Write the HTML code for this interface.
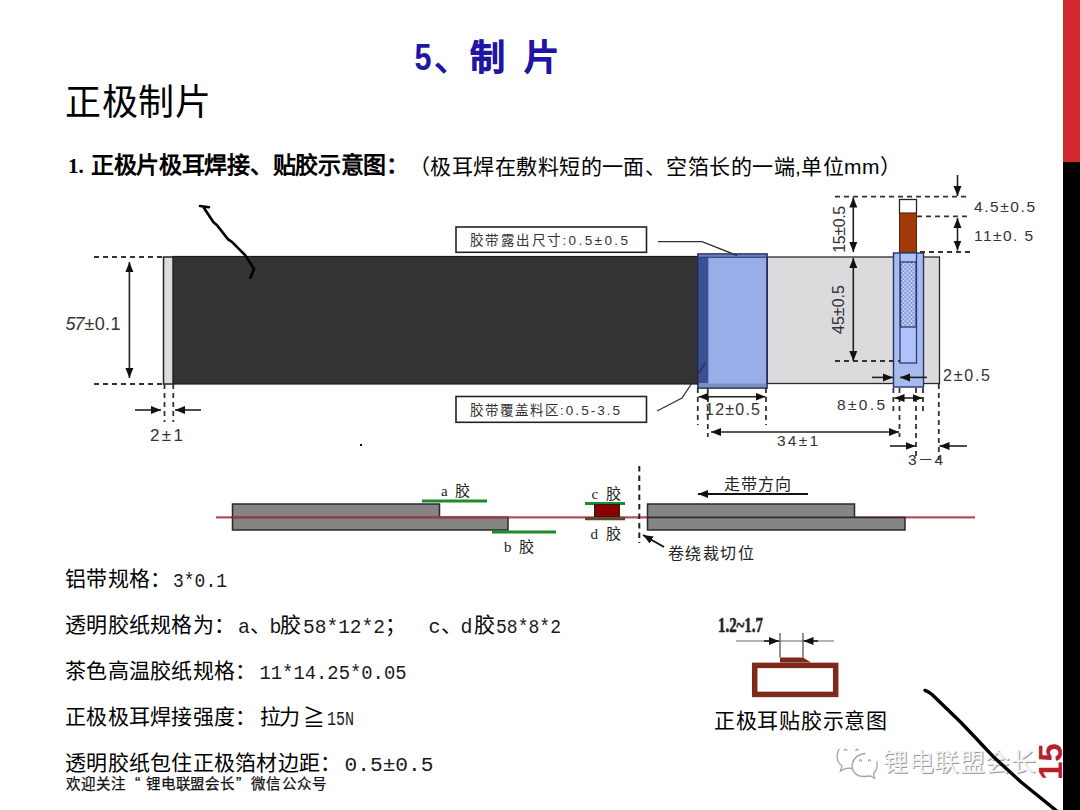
<!DOCTYPE html>
<html lang="zh-CN">
<head>
<meta charset="utf-8">
<style>
html,body{margin:0;padding:0;background:#fff;}
body{width:1080px;height:810px;overflow:hidden;position:relative;font-family:"Liberation Sans",sans-serif;}
svg{position:absolute;left:0;top:0;}
</style>
</head>
<body>
<div style="position:absolute;left:1063px;top:0;width:17px;height:162px;background:#d0282e"></div>
<div style="position:absolute;left:1063px;top:162px;width:17px;height:648px;background:#000"></div>
<svg width="1080" height="810" viewBox="0 0 1080 810">

<defs>
<pattern id="chk" width="4" height="4" patternUnits="userSpaceOnUse" patternTransform="translate(900.5,262)">
<rect width="4" height="4" fill="#7f93d4"/>
<circle cx="1" cy="1" r="1.15" fill="#c6d3fa"/>
<circle cx="3" cy="3" r="1.15" fill="#c6d3fa"/>
</pattern>
<marker id="ah" viewBox="0 0 10 10" refX="10" refY="5" markerWidth="10" markerHeight="10" markerUnits="userSpaceOnUse" orient="auto-start-reverse">
<path d="M0,1 L10,5 L0,9 z" fill="#111"/>
</marker>
</defs>
<g id="diag1">
<!-- strip -->
<rect x="163.5" y="257" width="10" height="127" fill="#dcdcdc" stroke="#222" stroke-width="1.5"/>
<rect x="173" y="256.5" width="530" height="127.5" fill="#333333" stroke="#1c1c1c" stroke-width="1.2"/>
<rect x="767" y="257" width="172.5" height="126.5" fill="#dbdadc" stroke="#2a2a2a" stroke-width="1.3"/>
<!-- blue tape -->
<rect x="698" y="254" width="69" height="134" fill="#98aee8" stroke="#1a2560" stroke-width="1.6"/>
<rect x="698.8" y="254.8" width="9.5" height="128.5" fill="#3b4f95"/>
<rect x="698.8" y="383.5" width="67.5" height="3.8" fill="#7e8fba"/>
<rect x="698.8" y="254.6" width="67.5" height="2.6" fill="#6f7fae"/>
<line x1="698.8" y1="257.3" x2="766.2" y2="257.3" stroke="#2a3570" stroke-width="1"/>
<!-- tab -->
<rect x="899.5" y="199.5" width="17" height="14" fill="#fff" stroke="#222" stroke-width="1.3"/>
<rect x="899.5" y="213" width="17" height="40" fill="#a03a08" stroke="#5a2010" stroke-width="1"/>
<rect x="893.5" y="253" width="30" height="134" fill="#a9bbec" stroke="#24336e" stroke-width="1.4"/>
<rect x="900" y="253" width="16.5" height="110" fill="#afc3fb" stroke="#2a3a78" stroke-width="1.3"/>
<rect x="900.5" y="262" width="15.5" height="65" fill="url(#chk)" stroke="#2a3a78" stroke-width="1.3"/>
<!-- callouts -->
<rect x="456" y="227" width="190.5" height="25.3" fill="#fff" stroke="#222" stroke-width="1.6"/>
<rect x="456" y="396.5" width="190.5" height="25.8" fill="#fff" stroke="#222" stroke-width="1.6"/>
<polyline points="658,241.6 702,241.6 737,255.5" fill="none" stroke="#333" stroke-width="1.4"/>
<polyline points="657,411 682,398 706,362" fill="none" stroke="#333" stroke-width="1.3"/>
</g>
<g id="dims" stroke="#333" stroke-width="1.8" fill="none" stroke-dasharray="5 4">
<line x1="94" y1="257" x2="163" y2="257"/>
<line x1="94" y1="384" x2="163" y2="384"/>
<line x1="164.5" y1="384" x2="164.5" y2="422"/>
<line x1="173.3" y1="384" x2="173.3" y2="422"/>
<line x1="697.8" y1="388" x2="697.8" y2="425"/>
<line x1="707.8" y1="388" x2="707.8" y2="437"/>
<line x1="766" y1="388" x2="766" y2="425"/>
<line x1="893.4" y1="388" x2="893.4" y2="415"/>
<line x1="899.5" y1="388" x2="899.5" y2="437"/>
<line x1="916" y1="388" x2="916" y2="460"/>
<line x1="923" y1="388" x2="923" y2="415"/>
<line x1="938.8" y1="384" x2="938.8" y2="460"/>
<line x1="835" y1="196.7" x2="970" y2="196.7"/>
<line x1="917" y1="216.3" x2="970" y2="216.3"/>
<line x1="920" y1="252" x2="970" y2="252"/>
<line x1="835" y1="361" x2="900" y2="361"/>
</g>
<g id="arrows" stroke="#222" stroke-width="1.6" fill="none">
<line x1="129.4" y1="262" x2="129.4" y2="378" marker-start="url(#ah)" marker-end="url(#ah)"/>
<line x1="135" y1="410" x2="161" y2="410" marker-end="url(#ah)"/>
<line x1="201" y1="410" x2="175" y2="410" marker-end="url(#ah)"/>
<line x1="698.5" y1="396.7" x2="765.5" y2="396.7" marker-start="url(#ah)" marker-end="url(#ah)"/>
<line x1="899" y1="432" x2="711" y2="432" marker-start="url(#ah)" marker-end="url(#ah)"/>
<line x1="894.5" y1="398" x2="922.5" y2="398" marker-start="url(#ah)" marker-end="url(#ah)"/>
<line x1="890" y1="446" x2="915.5" y2="446" marker-end="url(#ah)"/>
<line x1="967" y1="446" x2="939.5" y2="446" marker-end="url(#ah)"/>
<line x1="872" y1="377.4" x2="893" y2="377.4" marker-end="url(#ah)"/>
<line x1="927" y1="377.4" x2="900" y2="377.4" marker-end="url(#ah)"/>
<line x1="853.3" y1="197.5" x2="853.3" y2="252" marker-start="url(#ah)" marker-end="url(#ah)"/>
<line x1="853.3" y1="258" x2="853.3" y2="361" marker-start="url(#ah)" marker-end="url(#ah)"/>
<line x1="957.5" y1="175" x2="957.5" y2="196" marker-end="url(#ah)"/>
<line x1="957.5" y1="218" x2="957.5" y2="250.5" marker-start="url(#ah)" marker-end="url(#ah)"/>
</g>

<g id="diag2">
<line x1="216" y1="517.3" x2="975" y2="517.3" stroke="#b0525a" stroke-width="2.2"/>
<rect x="232.5" y="504" width="207" height="13.5" fill="#858585" stroke="#2a2a2a" stroke-width="1.5"/>
<rect x="232.5" y="517.5" width="275.5" height="12.5" fill="#858585" stroke="#2a2a2a" stroke-width="1.5"/>
<line x1="232.5" y1="517.3" x2="508" y2="517.3" stroke="#9a4048" stroke-width="2.2"/>
<line x1="422" y1="501" x2="487" y2="501" stroke="#1e8a2a" stroke-width="3"/>
<line x1="492" y1="532" x2="556" y2="532" stroke="#1e8a2a" stroke-width="3"/>
<line x1="585" y1="503.5" x2="625" y2="503.5" stroke="#1e8a2a" stroke-width="3"/>
<rect x="594.5" y="504.5" width="25" height="12" fill="#8a0000" stroke="#222" stroke-width="1"/>
<line x1="585" y1="518.7" x2="625" y2="518.7" stroke="#5b4a22" stroke-width="3"/>
<line x1="639.3" y1="466" x2="639.3" y2="543" stroke="#222" stroke-width="2" stroke-dasharray="5.5 4"/>
<rect x="647.5" y="504" width="207" height="13.5" fill="#858585" stroke="#2a2a2a" stroke-width="1.5"/>
<rect x="647.5" y="517.5" width="257.5" height="12.5" fill="#858585" stroke="#2a2a2a" stroke-width="1.5"/>
<line x1="808" y1="494" x2="698" y2="494" stroke="#111" stroke-width="2" marker-end="url(#ah)"/>
<line x1="664" y1="547" x2="643" y2="535" stroke="#111" stroke-width="2" marker-end="url(#ah)"/>
</g>

<g id="diag3">

<line x1="736" y1="641" x2="834" y2="641" stroke="#999" stroke-width="1.5"/>
<line x1="764" y1="641" x2="779" y2="641" stroke="#111" stroke-width="1.5" marker-end="url(#ah)"/>
<line x1="818" y1="641" x2="803.5" y2="641" stroke="#111" stroke-width="1.5" marker-end="url(#ah)"/>
<line x1="780" y1="633" x2="780" y2="657.5" stroke="#555" stroke-width="1.3"/>
<line x1="803" y1="633" x2="803" y2="657.5" stroke="#555" stroke-width="1.3"/>
<rect x="754.7" y="665.4" width="81" height="29" fill="#fff" stroke="#7d2a1c" stroke-width="5.5"/>
<path d="M780,662.6 L780,657.4 L803,657.4 L811,662.6 z" fill="#7d2a1c"/>
</g>


<g id="texts">
<text x="414.5" y="69.5" font-size="36" font-family="Liberation Sans, sans-serif" fill="#1f17a3" textLength="17" lengthAdjust="spacingAndGlyphs" font-weight="bold">5</text>
<text x="434" y="71" font-size="35" font-family="Liberation Sans, sans-serif" fill="#1f17a3" font-weight="bold">、</text>
<text x="470" y="70" font-size="35" font-family="Liberation Sans, sans-serif" fill="#1f17a3" font-weight="bold" stroke="#1f17a3" stroke-width="0.7">制</text>
<text x="524" y="70" font-size="35" font-family="Liberation Sans, sans-serif" fill="#1f17a3" font-weight="bold" stroke="#1f17a3" stroke-width="0.7">片</text>
<text x="65" y="114.5" font-size="36" font-family="Liberation Sans, sans-serif" fill="#000" textLength="146" lengthAdjust="spacing">正极制片</text>
<text x="68" y="173" font-size="21" font-family="Liberation Serif, serif" fill="#000" font-weight="bold">1.</text>
<text x="91" y="173" font-size="23" font-family="Liberation Sans, sans-serif" fill="#000" textLength="318" lengthAdjust="spacing" font-weight="bold">正极片极耳焊接、贴胶示意图：</text>
<text x="409" y="174" font-size="21" font-family="Liberation Sans, sans-serif" fill="#000" textLength="492" lengthAdjust="spacing">（极耳焊在敷料短的一面、空箔长的一端,单位mm）</text>
<text x="65.5" y="330" font-size="18" font-family="Liberation Sans, sans-serif" fill="#333" textLength="19" lengthAdjust="spacing" font-style="italic">57</text>
<text x="84.5" y="330" font-size="18" font-family="Liberation Sans, sans-serif" fill="#333" textLength="36" lengthAdjust="spacing">±0.1</text>
<text x="150" y="441" font-size="17" font-family="Liberation Sans, sans-serif" fill="#333" textLength="33" lengthAdjust="spacing">2±1</text>
<text x="705" y="414.5" font-size="16" font-family="Liberation Sans, sans-serif" fill="#333" textLength="55" lengthAdjust="spacing">12±0.5</text>
<text x="777" y="446" font-size="15.5" font-family="Liberation Sans, sans-serif" fill="#333" textLength="41" lengthAdjust="spacing">34±1</text>
<text x="837" y="409.5" font-size="15.5" font-family="Liberation Sans, sans-serif" fill="#333" textLength="48" lengthAdjust="spacing">8±0.5</text>
<text x="908" y="464.5" font-size="15.5" font-family="Liberation Sans, sans-serif" fill="#333" textLength="35" lengthAdjust="spacing">3－4</text>
<text x="943" y="380.5" font-size="16" font-family="Liberation Sans, sans-serif" fill="#333" textLength="47" lengthAdjust="spacing">2±0.5</text>
<text x="974" y="211.5" font-size="15.5" font-family="Liberation Sans, sans-serif" fill="#333" textLength="61" lengthAdjust="spacing">4.5±0.5</text>
<text x="974" y="240.5" font-size="15.5" font-family="Liberation Sans, sans-serif" fill="#333" textLength="59" lengthAdjust="spacing">11±0. 5</text>
<text x="0" y="0" font-size="16" font-family="Liberation Sans, sans-serif" fill="#333" textLength="47" lengthAdjust="spacing" transform="translate(845,252.8) rotate(-90)">15±0.5</text>
<text x="0" y="0" font-size="16" font-family="Liberation Sans, sans-serif" fill="#333" textLength="49" lengthAdjust="spacing" transform="translate(844,334) rotate(-90)">45±0.5</text>
<text x="470" y="244.5" font-size="13.5" font-family="Liberation Sans, sans-serif" fill="#333" textLength="158" lengthAdjust="spacing">胶带露出尺寸:0.5±0.5</text>
<text x="470" y="415" font-size="13.5" font-family="Liberation Sans, sans-serif" fill="#333" textLength="150" lengthAdjust="spacing">胶带覆盖料区:0.5-3.5</text>
<text x="441" y="496" font-size="15" font-family="Liberation Serif, serif" fill="#222" textLength="29" lengthAdjust="spacing">a 胶</text>
<text x="504" y="551.5" font-size="15" font-family="Liberation Serif, serif" fill="#222" textLength="30" lengthAdjust="spacing">b 胶</text>
<text x="591.5" y="499.4" font-size="15" font-family="Liberation Serif, serif" fill="#222" textLength="29" lengthAdjust="spacing">c 胶</text>
<text x="590.5" y="539" font-size="15" font-family="Liberation Serif, serif" fill="#222" textLength="30" lengthAdjust="spacing">d 胶</text>
<text x="724" y="490" font-size="16" font-family="Liberation Sans, sans-serif" fill="#222" textLength="67" lengthAdjust="spacing">走带方向</text>
<text x="667.5" y="558.5" font-size="16" font-family="Liberation Sans, sans-serif" fill="#222" textLength="86" lengthAdjust="spacing">卷绕裁切位</text>
<text x="718" y="631.5" font-size="20" font-family="Liberation Serif, serif" fill="#222" textLength="45" lengthAdjust="spacingAndGlyphs" font-weight="bold" stroke="#222" stroke-width="0.5">1.2~1.7</text>
<text x="714" y="728" font-size="21" font-family="Liberation Sans, sans-serif" fill="#000" textLength="173" lengthAdjust="spacing">正极耳贴胶示意图</text>
<text x="65" y="586" font-size="21" font-family="Liberation Sans, sans-serif" fill="#000" textLength="106" lengthAdjust="spacing">铝带规格：</text>
<text x="173" y="586.5" font-size="21" font-family="Liberation Mono, monospace" fill="#1a1a1a" textLength="54" lengthAdjust="spacingAndGlyphs">3*0.1</text>
<text x="65" y="632" font-size="21" font-family="Liberation Sans, sans-serif" fill="#000" textLength="170" lengthAdjust="spacing">透明胶纸规格为：</text>
<text x="238" y="632.5" font-size="21" font-family="Liberation Mono, monospace" fill="#1a1a1a" textLength="12" lengthAdjust="spacingAndGlyphs">a</text>
<text x="250" y="632" font-size="21" font-family="Liberation Sans, sans-serif" fill="#000">、</text>
<text x="269.5" y="632.5" font-size="21" font-family="Liberation Mono, monospace" fill="#1a1a1a" textLength="12" lengthAdjust="spacingAndGlyphs">b</text>
<text x="280" y="632" font-size="21" font-family="Liberation Sans, sans-serif" fill="#000">胶</text>
<text x="303" y="632.5" font-size="21" font-family="Liberation Mono, monospace" fill="#1a1a1a" textLength="82" lengthAdjust="spacingAndGlyphs">58*12*2</text>
<text x="385" y="632" font-size="21" font-family="Liberation Sans, sans-serif" fill="#000">；</text>
<text x="428.5" y="632.5" font-size="21" font-family="Liberation Mono, monospace" fill="#1a1a1a" textLength="12" lengthAdjust="spacingAndGlyphs">c</text>
<text x="441" y="632" font-size="21" font-family="Liberation Sans, sans-serif" fill="#000">、</text>
<text x="460.5" y="632.5" font-size="21" font-family="Liberation Mono, monospace" fill="#1a1a1a" textLength="12" lengthAdjust="spacingAndGlyphs">d</text>
<text x="474" y="632" font-size="21" font-family="Liberation Sans, sans-serif" fill="#000">胶</text>
<text x="496" y="632.5" font-size="21" font-family="Liberation Mono, monospace" fill="#1a1a1a" textLength="65" lengthAdjust="spacingAndGlyphs">58*8*2</text>
<text x="65" y="678" font-size="21" font-family="Liberation Sans, sans-serif" fill="#000" textLength="191" lengthAdjust="spacing">茶色高温胶纸规格：</text>
<text x="259.5" y="678.5" font-size="21" font-family="Liberation Mono, monospace" fill="#1a1a1a" textLength="147" lengthAdjust="spacingAndGlyphs">11*14.25*0.05</text>
<text x="65" y="724" font-size="21" font-family="Liberation Sans, sans-serif" fill="#000" textLength="191" lengthAdjust="spacing">正极极耳焊接强度：</text>
<text x="259.5" y="724" font-size="21" font-family="Liberation Sans, sans-serif" fill="#000" textLength="40" lengthAdjust="spacing">拉力</text>
<text x="303" y="725" font-size="22" font-family="Liberation Sans, sans-serif" fill="#000" textLength="22" lengthAdjust="spacing">≧</text>
<text x="327" y="724.5" font-size="21" font-family="Liberation Mono, monospace" fill="#1a1a1a" textLength="27" lengthAdjust="spacingAndGlyphs">15N</text>
<text x="65" y="770" font-size="21" font-family="Liberation Sans, sans-serif" fill="#000" textLength="276" lengthAdjust="spacing">透明胶纸包住正极箔材边距：</text>
<text x="344.5" y="770.5" font-size="21" font-family="Liberation Mono, monospace" fill="#1a1a1a" textLength="89" lengthAdjust="spacingAndGlyphs">0.5±0.5</text>
<text x="65.5" y="788.5" font-size="14.5" font-family="Liberation Sans, sans-serif" fill="#111" textLength="59" lengthAdjust="spacing" stroke="#111" stroke-width="0.25">欢迎关注</text>
<text x="135" y="788.5" font-size="16" font-family="Liberation Sans, sans-serif" fill="#111" stroke="#111" stroke-width="0.25">“</text>
<text x="146" y="788.5" font-size="14.5" font-family="Liberation Sans, sans-serif" fill="#111" textLength="88" lengthAdjust="spacing" stroke="#111" stroke-width="0.25">锂电联盟会长</text>
<text x="236" y="788.5" font-size="16" font-family="Liberation Sans, sans-serif" fill="#111" stroke="#111" stroke-width="0.25">”</text>
<text x="251" y="788.5" font-size="14.5" font-family="Liberation Sans, sans-serif" fill="#111" textLength="75" lengthAdjust="spacing" stroke="#111" stroke-width="0.25">微信公众号</text>
<text x="883.9" y="771.6" font-size="25" font-family="Liberation Sans, sans-serif" fill="#9a9a9a" textLength="153" lengthAdjust="spacing" font-weight="300">锂电联盟会长</text>
<text x="883" y="770.7" font-size="25" font-family="Liberation Sans, sans-serif" fill="#f4f4f4" textLength="153" lengthAdjust="spacing" font-weight="300">锂电联盟会长</text>
<g fill="none" stroke="#a4a4a4" stroke-width="1.3" stroke-linecap="round"><path d="M839,749 Q834,760 842,766 L840.5,771 Q846,767 852,768.5"/><path d="M865,753.5 Q853,755 852,766 Q853,776.5 864,776.5 L870.5,776 L874.5,778.2 L873.5,773.5 Q878,769 877,762"/><path d="M844.3,750.5 Q845.5,747.8 846.8,750.5 M855.8,750.5 Q857,747.8 858.2,750.5 M859.3,761 Q860.5,758.3 861.7,761 M868.3,761 Q869.5,758.3 870.7,761"/></g>
<text x="0" y="0" font-size="33" font-family="Liberation Sans, sans-serif" fill="#b8202e" font-weight="bold" transform="translate(1062,780) rotate(-90)">15</text>
</g>
<g id="strokes" fill="none" stroke="#000" stroke-linecap="round" stroke-linejoin="round">
<path d="M200,206 L209,207.3 M204,208 L213.3,222 L217,225.2 L228.1,239.4 L231.9,241.9 L245.4,255.4 L254,269 L250.4,277.7" stroke-width="2.6"/>
<path d="M925,690.4 Q928.5,691.8 932,694.5 L960.5,722 L976.7,739 Q985,748 993.3,756.7 L1021,782 L1058,812" stroke-width="3.4"/>
</g>
<rect x="360" y="444" width="2" height="2" fill="#000"/>
</svg>
</body>
</html>
